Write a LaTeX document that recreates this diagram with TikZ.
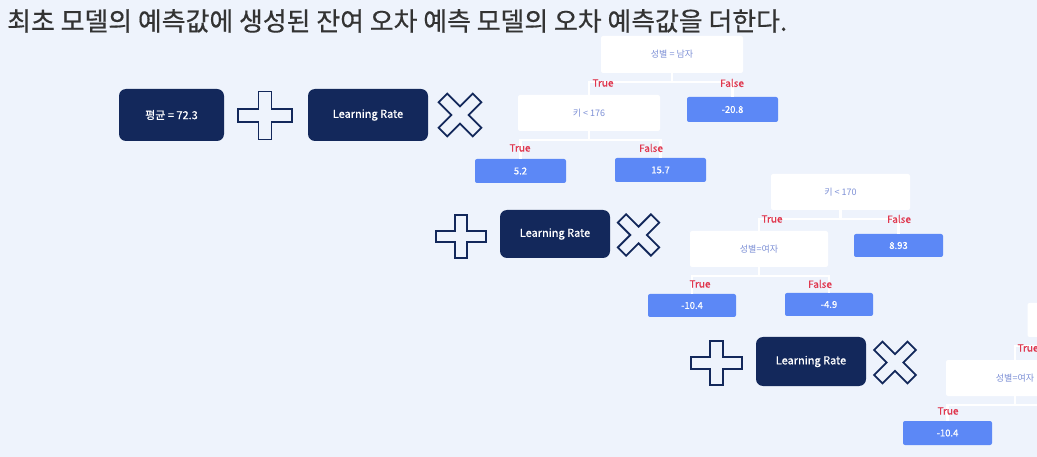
\documentclass[tikz,border=0pt]{standalone}
\usepackage{fontspec}
\setmainfont{Noto Sans CJK KR}
\newfontfamily\semib[FakeBold=0.7]{Noto Sans CJK KR}
\newfontfamily\titlef[FakeBold=0.5]{Noto Sans CJK KR}
\definecolor{bg}{HTML}{EEF3FC}
\definecolor{navy}{HTML}{13285B}
\definecolor{leafblue}{HTML}{5C88F6}
\definecolor{labred}{HTML}{E0384F}
\definecolor{condtext}{HTML}{7D90D6}
\definecolor{titlegray}{HTML}{333333}
\tikzset{
  darkbox/.style={fill=navy, rounded corners=7pt, text=white, inner sep=0pt,
    font=\semib\fontsize{11}{13}\selectfont},
  condbox/.style={fill=white, rounded corners=2pt, text=condtext, inner sep=0pt,
    minimum width=139pt, minimum height=36pt, font=\fontsize{9}{11}\selectfont},
  leafbox/.style={fill=leafblue, rounded corners=2pt, text=white, inner sep=0pt,
    minimum width=89pt, minimum height=24pt, font=\semib\fontsize{9.5}{11}\selectfont},
  branchlab/.style={text=labred, inner sep=0pt, font=\semib\fontsize{10}{12}\selectfont},
  treeedge/.style={draw=white, line width=2.5pt},
  symbol/.style={draw=navy, line width=1.8pt, line join=miter},
  pics/plus/.style={code={
    \draw[symbol] (-27,-6.5) -- (-6.5,-6.5) -- (-6.5,-24) -- (6.5,-24) -- (6.5,-6.5) -- (27,-6.5)
      -- (27,6.5) -- (6.5,6.5) -- (6.5,24) -- (-6.5,24) -- (-6.5,6.5) -- (-27,6.5) -- cycle;}},
  pics/times/.style={code={
    \draw[symbol, rotate=45] (-26,-6.5) -- (-6.5,-6.5) -- (-6.5,-26) -- (6.5,-26) -- (6.5,-6.5) -- (26,-6.5)
      -- (26,6.5) -- (6.5,6.5) -- (6.5,26) -- (-6.5,26) -- (-6.5,6.5) -- (-26,6.5) -- cycle;}},
}
\begin{document}
\begin{tikzpicture}[x=1pt, y=-1pt]
\useasboundingbox (0,0) rectangle (1037,457);
\fill[bg] (0,0) rectangle (1037,457);
\clip (0,0) rectangle (1037,457);

% title
\node[anchor=west, text=titlegray, inner sep=0pt, font=\titlef\fontsize{25.9}{28}\selectfont] (title) at (7,21)
  {최초 모델의 예측값에 생성된 잔여 오차 예측 모델의 오차 예측값을 더한다.};

% row 1
\node[darkbox, minimum width=105pt, minimum height=52pt] (mean) at (171.5,115) {평균 = 72.3};
\pic (plusA) at (265,115.5) {plus};
\node[darkbox, minimum width=120pt, minimum height=52pt] (lrA) at (368,115) {Learning Rate};
\pic[scale=0.93] (timesA) at (460,115) {times};

% tree 1
\node[condbox, minimum width=142pt, minimum height=37pt] (r1) at (672,54.5) {성별 = 남자};
\node[condbox, minimum width=142pt] (c1) at (589,113) {키 < 176};
\node[leafbox, minimum width=91pt, minimum height=25pt] (l1) at (732.5,109.5) {-20.8};
\node[leafbox, minimum width=91pt] (l2) at (520.5,171) {5.2};
\node[leafbox, minimum width=91pt] (l3) at (660.5,170) {15.7};
\draw[treeedge] (r1.south) -- ++(0,9) -| (c1.north);
\draw[treeedge] (r1.south) -- ++(0,9) -| (l1.north);
\draw[treeedge] (c1.south) -- ++(0,9) -| (l2.north);
\draw[treeedge] (c1.south) -- ++(0,9) -| (l3.north);
\node[branchlab] (t1a) at (603,83) {True};
\node[branchlab] (f1a) at (732,83) {False};
\node[branchlab] (t1b) at (520,148) {True};
\node[branchlab] (f1b) at (651,148) {False};

% row 2
\pic[xscale=0.93, yscale=0.9] (plusB) at (461,236.5) {plus};
\node[darkbox, minimum width=110pt, minimum height=48pt] (lrB) at (555,234) {Learning Rate};
\pic[scale=0.9] (timesB) at (638.5,235) {times};

% tree 2
\node[condbox] (r2) at (840.5,192) {키 < 170};
\node[condbox, minimum width=138pt] (c2) at (759,249) {성별=여자};
\node[leafbox, minimum height=23pt] (l4) at (898.5,245.5) {8.93};
\node[leafbox, minimum width=88pt, minimum height=23pt] (l5) at (692,305.5) {-10.4};
\node[leafbox, minimum width=88pt, minimum height=23pt] (l6) at (829,304.5) {-4.9};
\draw[treeedge] (r2.south) -- ++(0,9) -| (c2.north);
\draw[treeedge] (r2.south) -- ++(0,9) -| (l4.north);
\draw[treeedge] (c2.south) -- ++(0,9) -| (l5.north);
\draw[treeedge] (c2.south) -- ++(0,9) -| (l6.north);
\node[branchlab] (t2a) at (772,219) {True};
\node[branchlab] (f2a) at (899,219) {False};
\node[branchlab] (t2b) at (700,284) {True};
\node[branchlab] (f2b) at (820,284) {False};

% row 3
\pic[xscale=0.94, yscale=0.92] (plusC) at (716.5,363) {plus};
\node[darkbox, minimum width=110pt, minimum height=49pt] (lrC) at (811,361.5) {Learning Rate};
\pic[scale=0.91] (timesC) at (895,362.5) {times};

% tree 3 (cut off)
\node[condbox, minimum height=34pt] (r3) at (1097,320) {};
\node[condbox, minimum width=138pt] (c3) at (1015,378) {성별=여자};
\node[leafbox] (l7) at (947.5,433) {-10.4};
\coordinate (l8) at (1084,421);
\draw[treeedge] (r3.south) -- ++(0,9) -| (c3.north);
\draw[treeedge] (c3.south) -- ++(0,9) -| (l7.north);
\draw[treeedge] (c3.south) -- ++(0,9) -| (l8);
\node[branchlab] (t3a) at (1028,348) {True};
\node[branchlab] (t3b) at (948,411) {True};
\end{tikzpicture}
\end{document}
